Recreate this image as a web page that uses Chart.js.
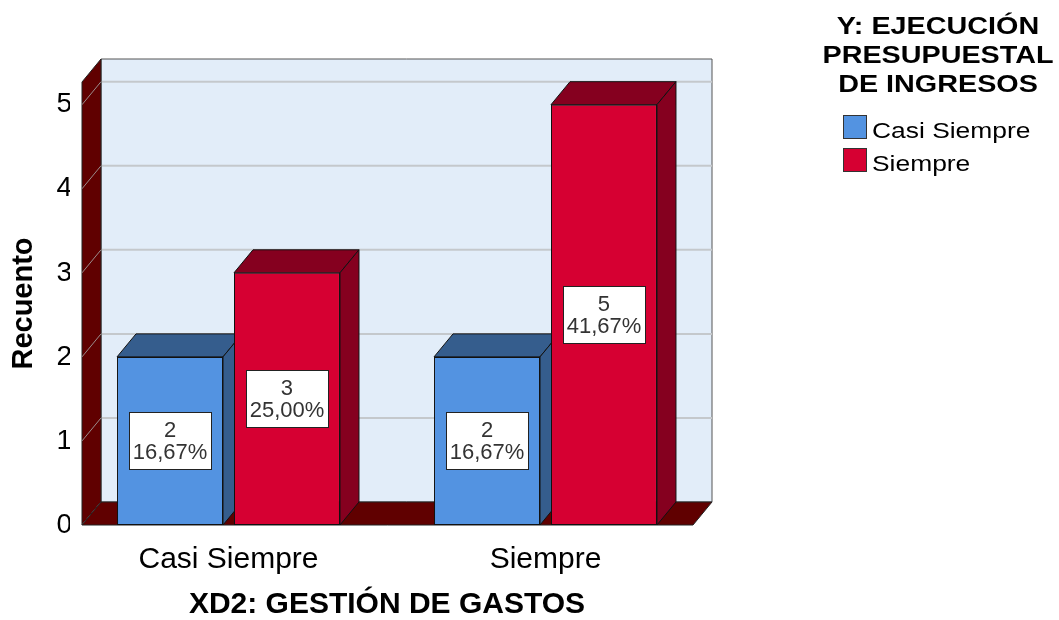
<!DOCTYPE html>
<html>
<head>
<meta charset="utf-8">
<script src="https://cdn.jsdelivr.net/npm/chart.js@4.4.1/dist/chart.umd.min.js"></script>
<style>
  html, body { margin: 0; padding: 0; background: #fff; }
  #wrap { width: 1059px; height: 620px; position: relative; }
</style>
</head>
<body>
<div id="wrap"><canvas id="chart" width="1059" height="620"></canvas></div>
<script>
// datos del gráfico
const categories = ['Casi Siempre', 'Siempre'];
const seriesNames = ['Casi Siempre', 'Siempre'];
const casiSiempreCounts = [2, 2];
const siempreCounts = [3, 5];
const yTicks = [0, 1, 2, 3, 4, 5];
const yMax = 5.27;
const legendTitle = ['Y: EJECUCIÓN', 'PRESUPUESTAL', 'DE INGRESOS'];
const xTitle = 'XD2: GESTIÓN DE GASTOS';
const yTitle = 'Recuento';

const FONT = '"Liberation Sans", Arial, sans-serif';
const frontColors = ['#5393E1', '#D60032'];
const darkColors = ['#355D8D', '#85001F'];
const wallColor = '#600000';
const backColor = '#E2EDF9';
const DX = 19, DY = -23; // profundidad 3D

const total = casiSiempreCounts.concat(siempreCounts).reduce((a, b) => a + b, 0);

function poly(ctx, pts, fill, stroke) {
    ctx.beginPath();
    ctx.moveTo(pts[0][0], pts[0][1]);
    for (let i = 1; i < pts.length; i++) ctx.lineTo(pts[i][0], pts[i][1]);
    ctx.closePath();
    ctx.fillStyle = fill;
    ctx.fill();
    if (stroke) {
        ctx.strokeStyle = stroke;
        ctx.lineWidth = 1;
        ctx.stroke();
    }
}

// paredes, piso y caras laterales de las barras
const box3d = {
    id: 'box3d',
    beforeDatasetsDraw(chart) {
        const ctx = chart.ctx;
        const area = chart.chartArea;
        const y = chart.scales.y;
        const xL = area.left + 12, xR = area.right - 11;
        const yTop = y.getPixelForValue(yMax), y0 = y.getPixelForValue(0);
        ctx.save();
        // pared del fondo
        poly(ctx, [[xL + DX, yTop + DY], [xR + DX, yTop + DY], [xR + DX, y0 + DY], [xL + DX, y0 + DY]], backColor, '#555');
        // líneas de cuadrícula
        yTicks.forEach(v => {
            if (v === 0) return;
            const py = y.getPixelForValue(v);
            ctx.strokeStyle = '#C4C8CC';
            ctx.lineWidth = 2;
            ctx.beginPath();
            ctx.moveTo(xL + DX, py + DY);
            ctx.lineTo(xR + DX, py + DY);
            ctx.stroke();
        });
        // pared izquierda
        poly(ctx, [[xL, yTop], [xL + DX, yTop + DY], [xL + DX, y0 + DY], [xL, y0]], wallColor, '#222');
        yTicks.forEach(v => {
            const py = y.getPixelForValue(v);
            ctx.strokeStyle = '#9A8C8C';
            ctx.lineWidth = 1;
            ctx.beginPath();
            ctx.moveTo(xL, py);
            ctx.lineTo(xL + DX, py + DY);
            ctx.stroke();
        });
        // piso
        poly(ctx, [[xL, y0], [xL + DX, y0 + DY], [xR + DX, y0 + DY], [xR, y0]], wallColor, '#222');

        // caras superiores y laterales
        chart.data.datasets.forEach((ds, di) => {
            chart.getDatasetMeta(di).data.forEach(bar => {
                const p = bar.getProps(['x', 'y', 'base', 'width'], true);
                const l = p.x - p.width / 2, r = p.x + p.width / 2;
                poly(ctx, [[l, p.y], [l + DX, p.y + DY], [r + DX, p.y + DY], [r, p.y]], darkColors[di], '#111');
                poly(ctx, [[r, p.y], [r + DX, p.y + DY], [r + DX, p.base + DY], [r, p.base]], darkColors[di], '#111');
            });
        });
        ctx.restore();
    },
    afterDatasetsDraw(chart) {
        const ctx = chart.ctx;
        ctx.save();
        chart.data.datasets.forEach((ds, di) => {
            chart.getDatasetMeta(di).data.forEach((bar, i) => {
                const p = bar.getProps(['x', 'y', 'base'], true);
                const v = ds.data[i];
                const pct = (v / total * 100).toFixed(2).replace('.', ',') + '%';
                const cy = (p.y + p.base) / 2;
                const w = 82, h = 57;
                ctx.fillStyle = '#fff';
                ctx.fillRect(Math.round(p.x - w / 2) + 0.5, Math.round(cy - h / 2) + 0.5, w, h);
                ctx.strokeStyle = '#222';
                ctx.lineWidth = 1;
                ctx.strokeRect(Math.round(p.x - w / 2) + 0.5, Math.round(cy - h / 2) + 0.5, w, h);
                ctx.fillStyle = '#333';
                ctx.font = '22px ' + FONT;
                ctx.textAlign = 'center';
                ctx.textBaseline = 'middle';
                ctx.fillText(String(v), p.x, cy - 10);
                ctx.fillText(pct, p.x, cy + 12);
            });
        });
        ctx.restore();
    },
    afterDraw(chart) {
        // leyenda
        const ctx = chart.ctx;
        ctx.save();
        ctx.fillStyle = '#000';
        ctx.textAlign = 'center';
        ctx.textBaseline = 'alphabetic';
        ctx.font = 'bold 23px ' + FONT;
        legendTitle.forEach((line, i) => {
            ctx.save();
            ctx.translate(938, 34 + i * 29);
            ctx.scale(1.25, 1);
            ctx.fillText(line, 0, 0);
            ctx.restore();
        });
        ctx.font = '22px ' + FONT;
        ctx.textAlign = 'left';
        seriesNames.forEach((name, i) => {
            const by = 115 + i * 33;
            ctx.fillStyle = frontColors[i];
            ctx.fillRect(843.5, by + 0.5, 23, 23);
            ctx.strokeStyle = '#333';
            ctx.lineWidth = 1;
            ctx.strokeRect(843.5, by + 0.5, 23, 23);
            ctx.save();
            ctx.translate(872, by + 23);
            ctx.scale(1.2, 1);
            ctx.fillStyle = '#000';
            ctx.fillText(name, 0, 0);
            ctx.restore();
        });
        ctx.restore();
    }
};

const chart = new Chart(document.getElementById('chart'), {
    type: 'bar',
    data: {
        labels: categories,
        datasets: [
            { label: seriesNames[0], data: casiSiempreCounts, backgroundColor: frontColors[0] },
            { label: seriesNames[1], data: siempreCounts, backgroundColor: frontColors[1] }
        ]
    },
    options: {
        responsive: false,
        animation: false,
        layout: { padding: { left: 0, right: 355, top: 82, bottom: 0 } },
        datasets: {
            bar: {
                categoryPercentage: 0.738,
                barPercentage: 0.906,
                borderColor: '#111',
                borderWidth: 1,
                borderSkipped: false
            }
        },
        plugins: {
            legend: { display: false },
            tooltip: { enabled: false }
        },
        scales: {
            x: {
                grid: { display: false },
                border: { display: false },
                ticks: { color: '#000', padding: 9, font: { family: FONT, size: 30 } },
                title: {
                    display: true, text: xTitle, color: '#000',
                    padding: { top: 0, bottom: 0 },
                    font: { family: FONT, size: 30, weight: 'bold', lineHeight: 1 }
                },
                afterFit(scale) { scale.height = 95; }
            },
            y: {
                min: 0,
                max: yMax,
                grid: { display: false, drawTicks: false },
                border: { display: false },
                ticks: { color: '#000', padding: -2, font: { family: FONT, size: 28 } },
                afterBuildTicks(scale) { scale.ticks = yTicks.map(v => ({ value: v })); },
                title: {
                    display: true, text: yTitle, color: '#000',
                    padding: { top: 9, bottom: 0 },
                    font: { family: FONT, size: 29, weight: 'bold', lineHeight: 1 }
                },
                afterFit(scale) { scale.width = 70; }
            }
        }
    },
    plugins: [box3d]
});
</script>
</body>
</html>
